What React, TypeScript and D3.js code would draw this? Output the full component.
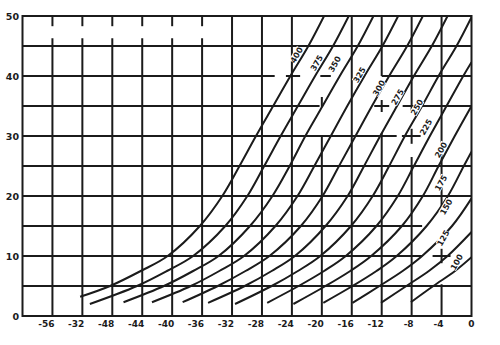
import React from "react";
import * as d3 from "d3";

const W = 500;
const H = 345;

const xTickValues = [-56, -52, -48, -44, -40, -36, -32, -28, -24, -20, -16, -12, -8, -4, 0];
const xTickLabels = ["-56", "-32", "-48", "-44", "-40", "-36", "-32", "-28", "-24", "-20", "-16", "-12", "-8", "-4", "0"];
const yTickValues = [0, 10, 20, 30, 40, 50];

// vertical grid lines: x value and the y-ranges where the line is drawn
const vGrid: [number, number[][]][] = [
  [-56, [[0, 46.3], [48.3, 50]]],
  [-52, [[0, 46.3], [48.3, 50]]],
  [-48, [[0, 46.3], [48.3, 50]]],
  [-44, [[0, 46.3], [48.3, 50]]],
  [-40, [[0, 46.3], [48.3, 50]]],
  [-36, [[0, 46.3], [48.3, 50]]],
  [-32, [[0, 50]]],
  [-28, [[0, 50]]],
  [-24, [[0, 50]]],
  [-20, [[0, 30], [34.8, 36.5]]],
  [-16, [[0, 50]]],
  [-12, [[0, 30.5], [34, 36], [40, 50]]],
  [-8, [[0, 26.5], [28.7, 31.2], [34, 50]]],
  [-4, [[0, 5.3], [8.8, 11.2], [17.3, 50]]],
];
// horizontal grid lines: y value and the x-ranges where the line is drawn
const hGrid: [number, number[][]][] = [
  [5, [[-60, 0]]],
  [10, [[-60, -6.6], [-5.2, -2.8]]],
  [15, [[-60, -6.6]]],
  [20, [[-60, 0]]],
  [25, [[-60, 0]]],
  [30, [[-60, -10], [-9.3, -6.8]]],
  [35, [[-60, -20.3], [-13, -11], [-9.2, 0]]],
  [40, [[-60, -26.3], [-24.8, -22.9], [-20.2, -18.8], [-12, 0]]],
  [45, [[-60, 0]]],
];

const curveNames = ["400", "375", "350", "325", "300", "275", "250", "225", "200", "175", "150", "125", "100"];

const c400 = [[-52.3, 3.2], [-48.3, 5], [-44.2, 7.5], [-40.6, 10], [-36.3, 15], [-33.3, 20], [-31, 25], [-28.8, 30], [-26.5, 35], [-24.2, 40], [-21.8, 45], [-19.7, 50]];
const c375 = [[-51, 2], [-44.7, 5], [-40.7, 7.5], [-37.2, 10], [-32.9, 15], [-29.95, 20], [-27.7, 25], [-25.5, 30], [-23.2, 35], [-20.9, 40], [-18.5, 45], [-16.4, 50]];
const c350 = [[-46.5, 2.3], [-41.1, 5], [-37.2, 7.5], [-33.8, 10], [-29.6, 15], [-26.6, 20], [-24.3, 25], [-22.2, 30], [-19.9, 35], [-17.6, 40], [-15.2, 45], [-13.1, 50]];
const c325 = [[-42.7, 2.3], [-37.5, 5], [-33.7, 7.5], [-30.4, 10], [-26.2, 15], [-23.25, 20], [-21, 25], [-18.8, 30], [-16.6, 35], [-14.3, 40], [-11.9, 45], [-9.8, 50]];
const c300 = [[-38.6, 2.3], [-33.9, 5], [-30.2, 7.5], [-27, 10], [-22.8, 15], [-19.9, 20], [-17.7, 25], [-15.5, 30], [-13.3, 35], [-11, 40], [-8.6, 45], [-6.5, 50]];
const c275 = [[-35.2, 2.2], [-30.3, 5], [-26.7, 7.5], [-23.6, 10], [-19.5, 15], [-16.55, 20], [-14.35, 25], [-12.2, 30], [-9.95, 35], [-7.7, 40], [-5.3, 45], [-3.2, 50]];
const c250 = [[-31.6, 2], [-26.7, 5], [-23.2, 7.5], [-20.2, 10], [-16.1, 15], [-13.2, 20], [-11, 25], [-8.9, 30], [-6.6, 35], [-4.4, 40], [-2, 45], [0, 49.8]];
const c225 = [[-27.3, 2.2], [-23.1, 5], [-19.7, 7.5], [-16.8, 10], [-12.7, 15], [-9.85, 20], [-7.7, 25], [-5.56, 30], [-3.33, 35], [-1.1, 40], [0, 42.3]];
const c200 = [[-23.8, 2], [-19.5, 5], [-16.2, 7.5], [-13.4, 10], [-9.3, 15], [-6.5, 20], [-4.4, 25], [-2.24, 30], [0, 35]];
const c175 = [[-19.8, 2.2], [-15.9, 5], [-12.7, 7.5], [-10, 10], [-6, 15], [-3.15, 20], [-1.03, 25], [0, 27.4]];
const c150 = [[-15.9, 2.2], [-12.3, 5], [-9.2, 7.5], [-6.6, 10], [-2.6, 15], [0, 19.6]];
const c125 = [[-12.1, 2.2], [-8.7, 5], [-5.7, 7.5], [-3.2, 10], [0, 14]];
const c100 = [[-8.1, 2.3], [-5.1, 5], [-2.2, 7.5], [0, 9.8]];
const curves = [c400, c375, c350, c325, c300, c275, c250, c225, c200, c175, c150, c125, c100];

// label centres (data coordinates)
const labelAt = [[-23.4, 43.5], [-20.7, 42.2], [-18.3, 42], [-15, 40.2], [-12.4, 38], [-9.9, 36.5], [-7.3, 34.8], [-6.1, 31.5], [-4.1, 27.7], [-4.1, 22.2], [-3.4, 18.2], [-3.8, 13], [-2, 9]];

export default function App() {
  const x = d3.scaleLinear().domain([-60, 0]).range([22.5, 471.5]);
  const y = d3.scaleLinear().domain([0, 50]).range([316, 16]);
  const line = d3
    .line<number[]>()
    .x((d) => x(d[0]))
    .y((d) => y(d[1]))
    .curve(d3.curveCatmullRom.alpha(0.5));

  const ink = "#1b1b1b";
  const font = "'DejaVu Sans', sans-serif";

  return (
    <svg
      width={W}
      height={H}
      style={{ position: "absolute", left: 0, top: 0, background: "#fff" }}
    >
      <defs>
        <clipPath id="plot">
          <rect x={x(-60)} y={y(50)} width={x(0) - x(-60)} height={y(0) - y(50)} />
        </clipPath>
      </defs>
      <rect x={0} y={0} width={W} height={H} fill="#fff" />

      {/* horizontal grid */}
      {hGrid.map(([v, segs]) =>
        segs.map((s, j) => (
          <line key={"h" + v + "_" + j} x1={x(s[0])} x2={x(s[1])} y1={y(v)} y2={y(v)} stroke={ink} strokeWidth={2} />
        ))
      )}
      {/* vertical grid */}
      {vGrid.map(([v, segs]) =>
        segs.map((s, j) => (
          <line key={"v" + v + "_" + j} x1={x(v)} x2={x(v)} y1={y(s[0])} y2={y(s[1])} stroke={ink} strokeWidth={2} />
        ))
      )}
      {/* frame */}
      <rect x={x(-60)} y={y(50)} width={x(0) - x(-60)} height={y(0) - y(50)} fill="none" stroke={ink} strokeWidth={2} />

      {/* curves */}
      <g clipPath="url(#plot)">
        {curves.map((c, i) => (
          <path key={"c" + i} d={line(c) || ""} fill="none" stroke={ink} strokeWidth={2} />
        ))}
      </g>

      {/* curve labels */}
      {labelAt.map((p, i) => (
        <g key={"l" + i} transform={`translate(${x(p[0])},${y(p[1])}) rotate(-60)`}>
          <rect x={-8} y={-4} width={16} height={8} fill="#fff" />
          <text
            x={0}
            y={3}
            textAnchor="middle"
            fontFamily={font}
            fontWeight="bold"
            fontSize={8}
            fill={ink}
          >
            {curveNames[i]}
          </text>
        </g>
      ))}

      {/* x tick labels */}
      {xTickValues.map((v, i) => (
        <text
          key={"xt" + v}
          x={v === 0 ? x(v) : x(v) + 2}
          y={327}
          textAnchor={v === 0 ? "middle" : "end"}
          fontFamily={font}
          fontWeight="bold"
          fontSize={9}
          fill={ink}
        >
          {xTickLabels[i]}
        </text>
      ))}
      {/* y tick labels */}
      {yTickValues.map((v) => (
        <text
          key={"yt" + v}
          x={19}
          y={y(v) + 3.5}
          textAnchor="end"
          fontFamily={font}
          fontWeight="bold"
          fontSize={9.5}
          fill={ink}
        >
          {v}
        </text>
      ))}
    </svg>
  );
}
